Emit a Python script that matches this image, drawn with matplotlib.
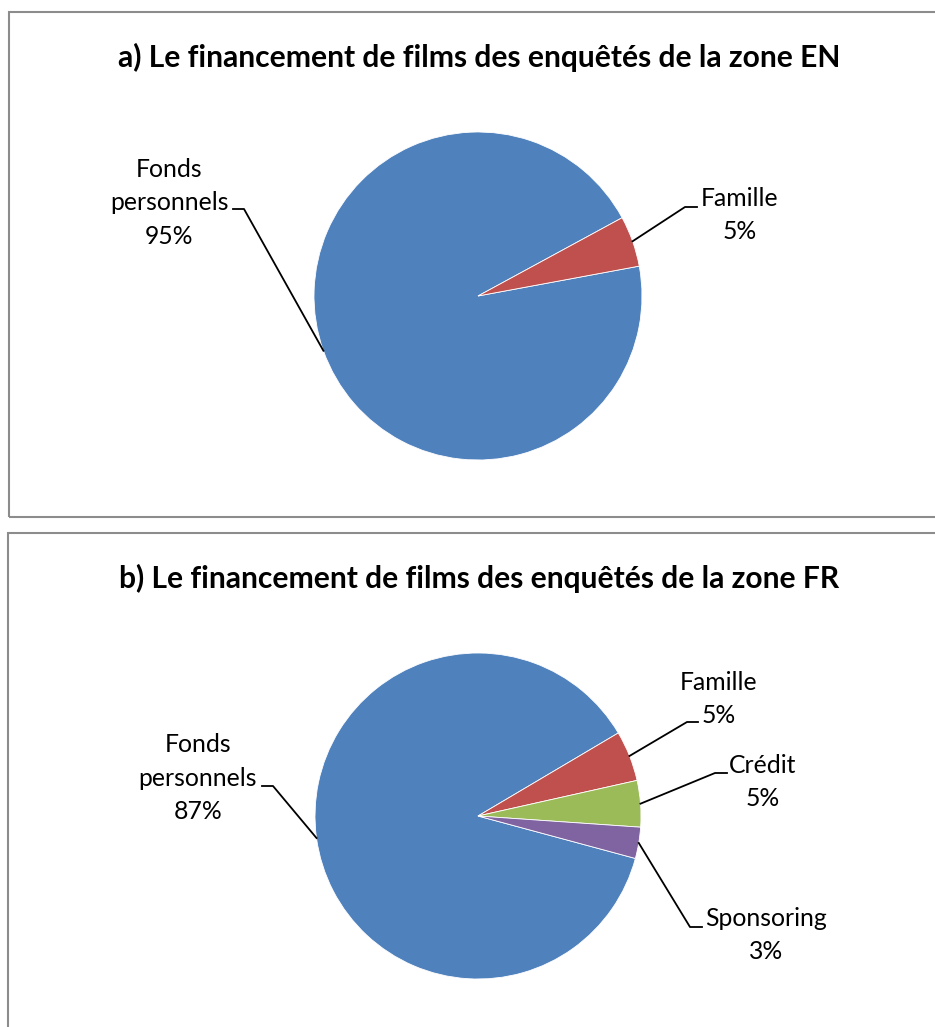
import numpy as np
import matplotlib
matplotlib.use("Agg")
import matplotlib.pyplot as plt
from matplotlib.patches import Rectangle

plt.rcParams['font.family'] = ['Lato', 'DejaVu Sans']

# zone EN
labels_en = ['Fonds\npersonnels', 'Famille']
values_en = [95.0, 5.0]
# zone FR
labels_fr = ['Fonds\npersonnels', 'Famille', 'Crédit', 'Sponsoring']
values_fr = [87.3, 5.0, 4.6, 3.1]

colors = ['#4F81BD', '#C0504D', '#9BBB59', '#8064A2']

W, H = 935, 1027
fig = plt.figure(figsize=(W / 100, H / 100), dpi=100)
ax = fig.add_axes([0, 0, 1, 1])
ax.set_xlim(0, W)
ax.set_ylim(0, H)
ax.set_aspect('equal')
ax.axis('off')

# panel frames (pixel coords, y from top)
def frame(x0, y0, x1, y1):
    ax.add_patch(Rectangle((x0, H - y1), x1 - x0, y1 - y0, fill=False,
                           edgecolor='#8c8c8c', lw=1.5, clip_on=False))

frame(9, 12, 945, 517)
frame(7.5, 533, 945, 1040)

ax.text(479, H - 57, 'a) Le financement de films des enquêtés de la zone EN',
        ha='center', va='center', fontsize=21.6, fontweight='bold')
ax.text(479, H - 578, 'b) Le financement de films des enquêtés de la zone FR',
        ha='center', va='center', fontsize=21.6, fontweight='bold')


def draw_pie(values, labels, center, radius, start, label_pos, elbows):
    cx, cy = center[0], H - center[1]
    wedges, _ = ax.pie(values, colors=colors[:len(values)], startangle=start,
                       counterclock=False, center=(cx, cy), radius=radius,
                       wedgeprops=dict(edgecolor='white', linewidth=0.6))
    total = sum(values)
    for w, lab, v, (tx, ty), (ex, ey, hx) in zip(wedges, labels, values,
                                                   label_pos, elbows):
        mid = np.deg2rad((w.theta1 + w.theta2) / 2)
        px = cx + radius * np.cos(mid)
        py = cy + radius * np.sin(mid)
        ax.plot([px, ex, hx], [py, H - ey, H - ey], color='black', lw=1.3)
        ax.text(tx, H - ty, '%s\n%.0f%%' % (lab, v / total * 100),
                ha='center', va='center', fontsize=17.8, linespacing=1.55)
    ax.set_xlim(0, W)
    ax.set_ylim(0, H)
    ax.set_aspect('equal')


draw_pie(values_en, labels_en, (478, 296), 164, 10.5,
         [(169, 203), (740, 215)],
         [(244, 209, 233), (685, 207, 697)])

draw_pie(values_fr, labels_fr, (478, 816), 163, -15.1,
         [(198, 778), (719, 699), (763, 782), (766, 935)],
         [(273, 786, 262), (687, 722, 698), (715, 773, 727), (690, 927, 702)])

ax.axis('off')
fig.savefig('out.png', dpi=100)
